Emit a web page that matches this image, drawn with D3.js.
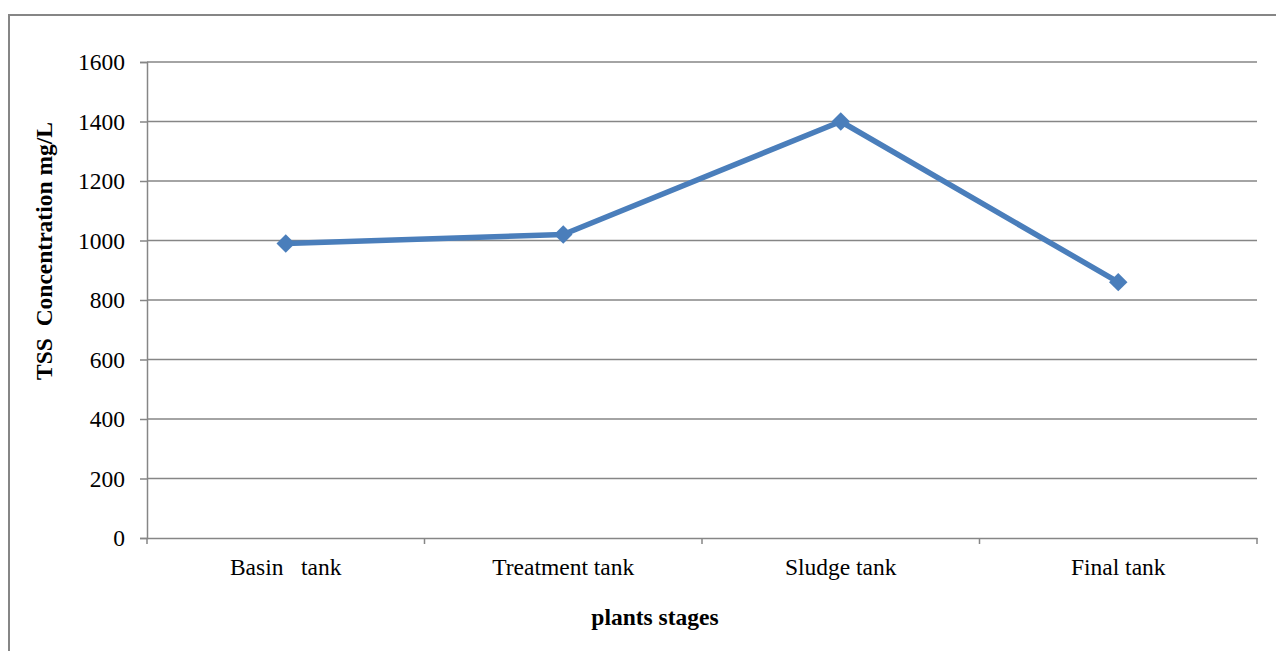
<!DOCTYPE html>
<html>
<head>
<meta charset="utf-8">
<script src="https://cdn.jsdelivr.net/npm/d3@7"></script>
<style>
  body { margin: 0; background: #fff; }
  text { font-family: "Liberation Serif", "Times New Roman", serif; fill: #000; white-space: pre; }
</style>
</head>
<body>
<div id="chart"></div>
<script>
// Chart data.
const stages = ["Basin   tank", "Treatment tank", "Sludge tank", "Final tank"];
const tss = [990, 1020, 1400, 860];
const yTicks = [0, 200, 400, 600, 800, 1000, 1200, 1400, 1600];

const WIDTH = 1276;
const HEIGHT = 651;
const MARGIN = { left: 147, right: 19, top: 62, bottom: 113 };
const LINE_COLOR = "#4a7ebb";
const GRID_COLOR = "#868686";
const FONT_SIZE = "23.5px";

const svg = d3.select("#chart").append("svg")
  .attr("width", WIDTH)
  .attr("height", HEIGHT);

// Outer chart border.
svg.append("rect")
  .attr("x", 9).attr("y", 15)
  .attr("width", WIDTH).attr("height", HEIGHT)
  .attr("fill", "none")
  .attr("stroke", GRID_COLOR)
  .attr("stroke-width", 2);

const xScale = d3.scaleBand()
  .domain(stages)
  .range([MARGIN.left, WIDTH - MARGIN.right]);
const yScale = d3.scaleLinear()
  .domain([0, 1600])
  .range([HEIGHT - MARGIN.bottom, MARGIN.top]);

// Gridlines.
svg.append("g").selectAll("line")
  .data(yTicks.filter(d => d > 0))
  .join("line")
  .attr("x1", MARGIN.left).attr("x2", WIDTH - MARGIN.right)
  .attr("y1", d => yScale(d)).attr("y2", d => yScale(d))
  .attr("stroke", GRID_COLOR)
  .attr("stroke-width", 1.5);

// Y axis.
const yAxis = d3.axisLeft(yScale).tickValues(yTicks).tickFormat(d3.format("d"))
  .tickSize(7).tickPadding(15);
const gy = svg.append("g")
  .attr("transform", `translate(${MARGIN.left},0)`)
  .call(yAxis);
gy.select(".domain").attr("stroke", GRID_COLOR).attr("stroke-width", 1.5);
gy.selectAll(".tick line").attr("stroke", GRID_COLOR).attr("stroke-width", 1.5);
gy.selectAll("text").style("font-size", FONT_SIZE).attr("fill", "#000");

// X axis with ticks between categories.
const xAxis = d3.axisBottom(xScale).tickSize(0).tickPadding(20).tickSizeOuter(0);
const gx = svg.append("g")
  .attr("transform", `translate(0,${yScale(0)})`)
  .call(xAxis);
gx.select(".domain").attr("stroke", GRID_COLOR).attr("stroke-width", 1.5);
gx.selectAll("text").style("font-size", FONT_SIZE).attr("fill", "#000").attr("dy", "0.71em");
const bounds = stages.map(d => xScale(d)).concat([xScale.range()[1]]);
gx.selectAll(".sep")
  .data(bounds)
  .join("line")
  .attr("x1", d => d).attr("x2", d => d)
  .attr("y1", 0).attr("y2", 6)
  .attr("stroke", GRID_COLOR)
  .attr("stroke-width", 1.5);

// Series line.
const cx = d => xScale(d) + xScale.bandwidth() / 2;
const line = d3.line()
  .x((d, i) => cx(stages[i]))
  .y(d => yScale(d));
svg.append("path")
  .datum(tss)
  .attr("d", line)
  .attr("fill", "none")
  .attr("stroke", LINE_COLOR)
  .attr("stroke-width", 5.5)
  .attr("stroke-linejoin", "round");

// Diamond markers.
svg.append("g").selectAll("path")
  .data(tss)
  .join("path")
  .attr("d", d3.symbol(d3.symbolSquare, 170))
  .attr("transform", (d, i) => `translate(${cx(stages[i])},${yScale(d)}) rotate(45)`)
  .attr("fill", LINE_COLOR);

// Axis titles.
svg.append("text")
  .attr("transform", "translate(52,251) rotate(-90)")
  .attr("text-anchor", "middle")
  .style("font-size", FONT_SIZE)
  .style("font-weight", "bold")
  .text("TSS  Concentration mg/L");

svg.append("text")
  .attr("x", 655)
  .attr("y", 625)
  .attr("text-anchor", "middle")
  .style("font-size", FONT_SIZE)
  .style("font-weight", "bold")
  .text("plants stages");
</script>
</body>
</html>
